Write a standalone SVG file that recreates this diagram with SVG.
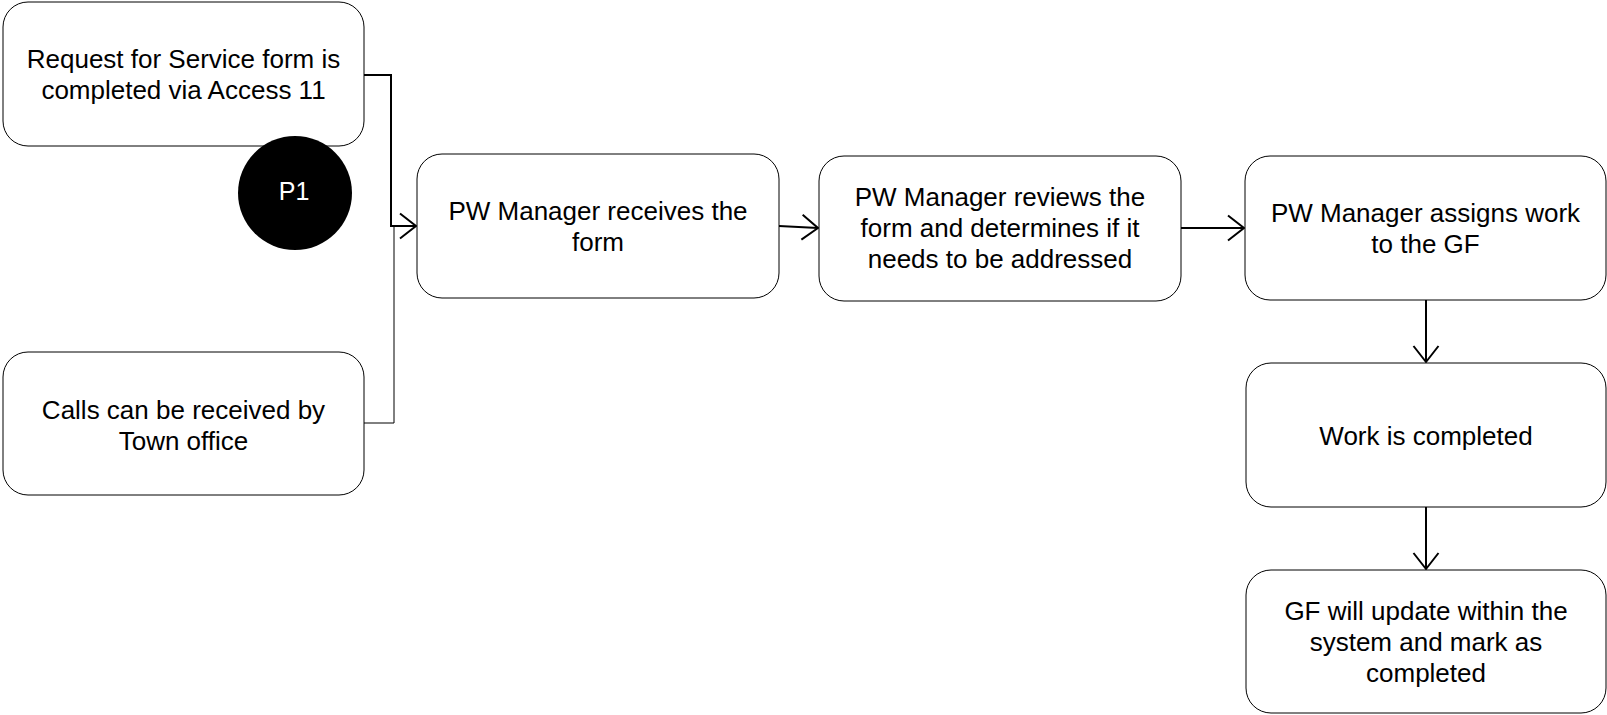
<svg xmlns="http://www.w3.org/2000/svg" width="1607" height="715" viewBox="0 0 1607 715">
<style>
.box{fill:#fff;stroke:#000;stroke-width:1}
.t{font-family:"Liberation Sans",Arial,sans-serif;font-size:26px;fill:#000;text-anchor:middle}
.c{fill:none;stroke:#000;stroke-width:2}
.thin{fill:none;stroke:#000;stroke-width:1}
</style>
<defs>
<marker id="arr" markerUnits="userSpaceOnUse" markerWidth="40" markerHeight="40" refX="0" refY="0" viewBox="-20 -20 40 40" orient="auto" overflow="visible">
<path d="M-16,-12.5 L0,0 L-16,12.5" fill="none" stroke="#000" stroke-width="2"/>
</marker>
</defs>
<rect width="1607" height="715" fill="#fff"/>
<g id="connectors">
<path class="thin" d="M364,423 H394 V226"/>
<path class="c" d="M364,75 H391 V226 H416" marker-end="url(#arr)"/>
<path class="c" d="M779,226 L818,228" marker-end="url(#arr)"/>
<path class="c" d="M1181,228 H1244" marker-end="url(#arr)"/>
<path class="c" d="M1426,300 V362" marker-end="url(#arr)"/>
<path class="c" d="M1426,507 V569" marker-end="url(#arr)"/>
</g>
<g id="n1">
<rect class="box" x="3" y="2" width="361" height="144" rx="25"/>
<text class="t" x="183.5" y="68">Request for Service form is</text>
<text class="t" x="183.5" y="99">completed via Access 11</text>
</g>
<g id="p1">
<circle cx="295" cy="193" r="57" fill="#000"/>
<text class="t" x="294" y="200" style="fill:#fff;font-size:25px">P1</text>
</g>
<g id="n7">
<rect class="box" x="3" y="352" width="361" height="143" rx="25"/>
<text class="t" x="183.5" y="419">Calls can be received by</text>
<text class="t" x="183.5" y="450">Town office</text>
</g>
<g id="n2">
<rect class="box" x="417" y="154" width="362" height="144" rx="25"/>
<text class="t" x="598" y="220">PW Manager receives the</text>
<text class="t" x="598" y="251">form</text>
</g>
<g id="n3">
<rect class="box" x="819" y="156" width="362" height="145" rx="25"/>
<text class="t" x="1000" y="206">PW Manager reviews the</text>
<text class="t" x="1000" y="237">form and determines if it</text>
<text class="t" x="1000" y="268">needs to be addressed</text>
</g>
<g id="n4">
<rect class="box" x="1245" y="156" width="361" height="144" rx="25"/>
<text class="t" x="1425.5" y="222">PW Manager assigns work</text>
<text class="t" x="1425.5" y="253">to the GF</text>
</g>
<g id="n5">
<rect class="box" x="1246" y="363" width="360" height="144" rx="25"/>
<text class="t" x="1426" y="445">Work is completed</text>
</g>
<g id="n6">
<rect class="box" x="1246" y="570" width="360" height="143" rx="25"/>
<text class="t" x="1426" y="620">GF will update within the</text>
<text class="t" x="1426" y="651">system and mark as</text>
<text class="t" x="1426" y="682">completed</text>
</g>
</svg>
